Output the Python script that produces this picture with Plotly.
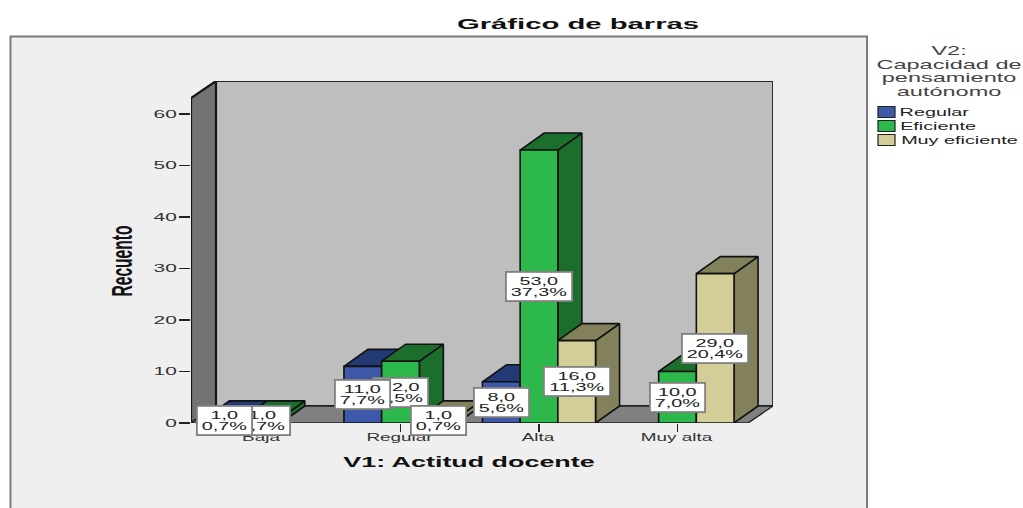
import json
import plotly.graph_objects as go

categories = ["Baja", "Regular", "Alta", "Muy alta"]
series_names = ["Regular", "Eficiente", "Muy eficiente"]
regular_values = [1, 11, 8, 0]
eficiente_values = [1, 12, 53, 10]
muy_eficiente_values = [0, 1, 16, 29]
regular_pct = ["0,7%", "7,7%", "5,6%", ""]
eficiente_pct = ["0,7%", "8,5%", "37,3%", "7,0%"]
muy_eficiente_pct = ["", "0,7%", "11,3%", "20,4%"]
y_ticks = [0, 10, 20, 30, 40, 50, 60]
front_colors = ["#3E59A9", "#2DB84B", "#D3CE98"]
side_colors = ["#233A75", "#1B6E2C", "#83805C"]

values = [regular_values, eficiente_values, muy_eficiente_values]
pcts = [regular_pct, eficiente_pct, muy_eficiente_pct]

W, H = 1023, 508
L, R, T, B = 191, 773, 81, 423
PX_X = 138.5
PX_Y = 5.15
ORIGIN = 262
x0 = -(ORIGIN - L) / PX_X
x1 = (R - ORIGIN) / PX_X
y_top = (B - T) / PX_Y
bar_w = 37.7 / PX_X
dx_bar, dy_bar = 24 / PX_X, 17 / PX_Y
dx_wall, dy_wall = 25 / PX_X, 17 / PX_Y
wall_top = y_top - dy_wall
front_x1 = x1 - dx_wall


def px(x):
    return (x - L) / (R - L)


def py(y):
    return (B - y) / (B - T)


fig = go.Figure()


def poly(xs, ys, fill, line="#111111", lw=1.6):
    fig.add_trace(go.Scatter(
        x=xs + xs[:1], y=ys + ys[:1], mode="lines", fill="toself",
        fillcolor=fill, line=dict(color=line, width=lw), cliponaxis=False,
        hoverinfo="skip", showlegend=False,
    ))


# walls and floor
poly([x0 + dx_wall, x1, x1, x0 + dx_wall], [dy_wall, dy_wall, y_top, y_top], "#BEBEBE", "#222222", 1.8)
poly([x0, x0 + dx_wall, x0 + dx_wall, x0], [0, dy_wall, y_top, wall_top], "#737373", "#151515", 2.2)
poly([x0, front_x1, x1, x0 + dx_wall], [0, 0, dy_wall, dy_wall], "#808080", "#222222", 1.4)

# bars, painted left to right
for c in range(len(categories)):
    for s in range(len(series_names)):
        v = values[s][c]
        if not v:
            continue
        a = c + (s - 1.5) * bar_w
        b = a + bar_w
        poly([b, b + dx_bar, b + dx_bar, b], [0, dy_bar, v + dy_bar, v], side_colors[s])
        poly([a, b, b + dx_bar, a + dx_bar], [v, v, v + dy_bar, v + dy_bar], side_colors[s])
        poly([a, b, b, a], [0, 0, v, v], front_colors[s])

annotations = []
stretch = []  # per annotation: [x scale, line spacing in em]

# data labels: green under blue under tan
for s in (1, 0, 2):
    for c in range(len(categories)):
        v = values[s][c]
        if not v:
            continue
        p = pcts[s][c]
        annotations.append(dict(
            x=c + (s - 1) * bar_w, y=v / 2, xref="x", yref="y",
            text=f"{v},0<br>{p}", showarrow=False, align="center", valign="middle",
            xanchor="center", yanchor="middle",
            width=64 if len(p) > 4 else 53, height=27,
            bgcolor="white", bordercolor="#7F7F7F", borderwidth=1.8, borderpad=0,
            font=dict(family="Liberation Sans", size=11, color="#222222"),
        ))
        stretch.append([1.8, 1.05])

# legend block
legend_title = ["V2:", "Capacidad de", "pensamiento", "autónomo"]
annotations.append(dict(
    x=px(949), y=py(71.5), xref="paper", yref="paper", showarrow=False,
    xanchor="center", yanchor="middle",
    text="<br>".join(legend_title), align="center",
    font=dict(family="Liberation Sans", size=12, color="#444444"),
))
stretch.append([1.96, 1.13])

legend_centers = [934, 938, 959.5]
legend_rows = [112, 126, 140]
shapes = []
for name, cx, ry, col in zip(series_names, legend_centers, legend_rows, front_colors):
    annotations.append(dict(
        x=px(cx), y=py(ry), xref="paper", yref="paper", showarrow=False, text=name,
        xanchor="center", yanchor="middle",
        font=dict(family="Liberation Sans", size=11, color="#222222"),
    ))
    stretch.append([1.8, 1.3])
    shapes.append(dict(
        type="rect", xref="paper", yref="paper", x0=px(878), x1=px(895), y0=py(ry - 5.5), y1=py(ry + 5.5),
        fillcolor=col, line=dict(color="#222222", width=1.2), layer="above",
    ))

# outer panel
shapes.insert(0, dict(
    type="rect", xref="paper", yref="paper", x0=px(10.5), x1=px(867), y0=py(36.5), y1=py(530),
    fillcolor="#EFEFEF", line=dict(color="#7A7A7A", width=2), layer="below",
))

fig.update_layout(
    width=W, height=H, autosize=False,
    margin=dict(l=L, r=W - R, t=T, b=H - B, pad=0),
    paper_bgcolor="white", plot_bgcolor="rgba(0,0,0,0)", showlegend=False,
    title=dict(
        text="<b>Gráfico de barras</b>", xref="container", yref="container",
        x=578 / W, xanchor="center", y=(H - 24) / H, yanchor="middle",
        font=dict(family="Liberation Sans", size=15, color="#111111"),
    ),
    xaxis=dict(
        range=[x0, x1], tickmode="array", tickvals=list(range(len(categories))), ticktext=categories,
        ticks="outside", ticklen=8, tickcolor="#222222", tickwidth=1.5, showgrid=False, zeroline=False,
        showline=False, tickfont=dict(family="Liberation Sans", size=11, color="#333333"),
        title=dict(text="<b>V1: Actitud docente</b>", standoff=14,
                   font=dict(family="Liberation Sans", size=14, color="#111111")),
    ),
    yaxis=dict(
        range=[0, y_top], tickmode="array", tickvals=y_ticks, ticks="outside", ticklen=11,
        tickcolor="#222222", tickwidth=1.5, showgrid=False, zeroline=False, showline=False,
        tickfont=dict(family="Liberation Sans", size=11, color="#333333"),
        title=dict(text="<b>Recuento</b>", standoff=32,
                   font=dict(family="Liberation Sans", size=13, color="#111111")),
    ),
    annotations=annotations, shapes=shapes,
)

post = """
document.documentElement.style.margin = '0';
document.body.style.margin = '0';
var gd = document.getElementById('{plot_id}');
var S = %s;
function sc(el, k) {
  var x = parseFloat(el.getAttribute('x')) || 0;
  el.setAttribute('transform', (el.getAttribute('transform') || '') +
    ' translate(' + x + ' 0) scale(' + k + ' 1) translate(' + (-x) + ' 0)');
}
gd.querySelectorAll('.annotation').forEach(function (a, i) {
  var t = a.querySelector('text');
  var s = S[i];
  if (!t || !s) return;
  var lines = t.querySelectorAll('tspan.line');
  var n = lines.length;
  lines.forEach(function (l, j) { l.setAttribute('dy', (j * s[1]) + 'em'); });
  if (n > 1) {
    var fs = parseFloat(getComputedStyle(t).fontSize);
    var y0 = parseFloat(t.getAttribute('y')) || 0;
    var shift = (n - 1) * (1.3 - s[1]) * fs / 2;
    t.setAttribute('y', y0 + shift);
    lines.forEach(function (l) { l.setAttribute('y', y0 + shift); });
  }
  sc(t, s[0]);
});
gd.querySelectorAll('.xtick text').forEach(function (t) {
  sc(t, 1.72);
  t.setAttribute('transform', 'translate(-1 -4) ' + t.getAttribute('transform'));
});
gd.querySelectorAll('.ytick text').forEach(function (t) { sc(t, 1.9); });
var g = gd.querySelector('.gtitle'); if (g) sc(g, 1.95);
var xt = gd.querySelector('.xtitle');
if (xt) { sc(xt, 1.92); xt.setAttribute('transform', 'translate(-13 -4) ' + xt.getAttribute('transform')); }
var yt = gd.querySelector('.ytitle');
if (yt) {
  var yx = parseFloat(yt.getAttribute('x')) || 0, yy = parseFloat(yt.getAttribute('y')) || 0;
  yt.setAttribute('transform', 'translate(4 9) ' + (yt.getAttribute('transform') || '') +
    ' translate(' + yx + ' ' + yy + ') scale(1.2 2.2) translate(' + (-yx) + ' ' + (-yy) + ')');
}
""" % json.dumps(stretch)

fig.write_html("out.html", post_script=post, config={"staticPlot": True})
